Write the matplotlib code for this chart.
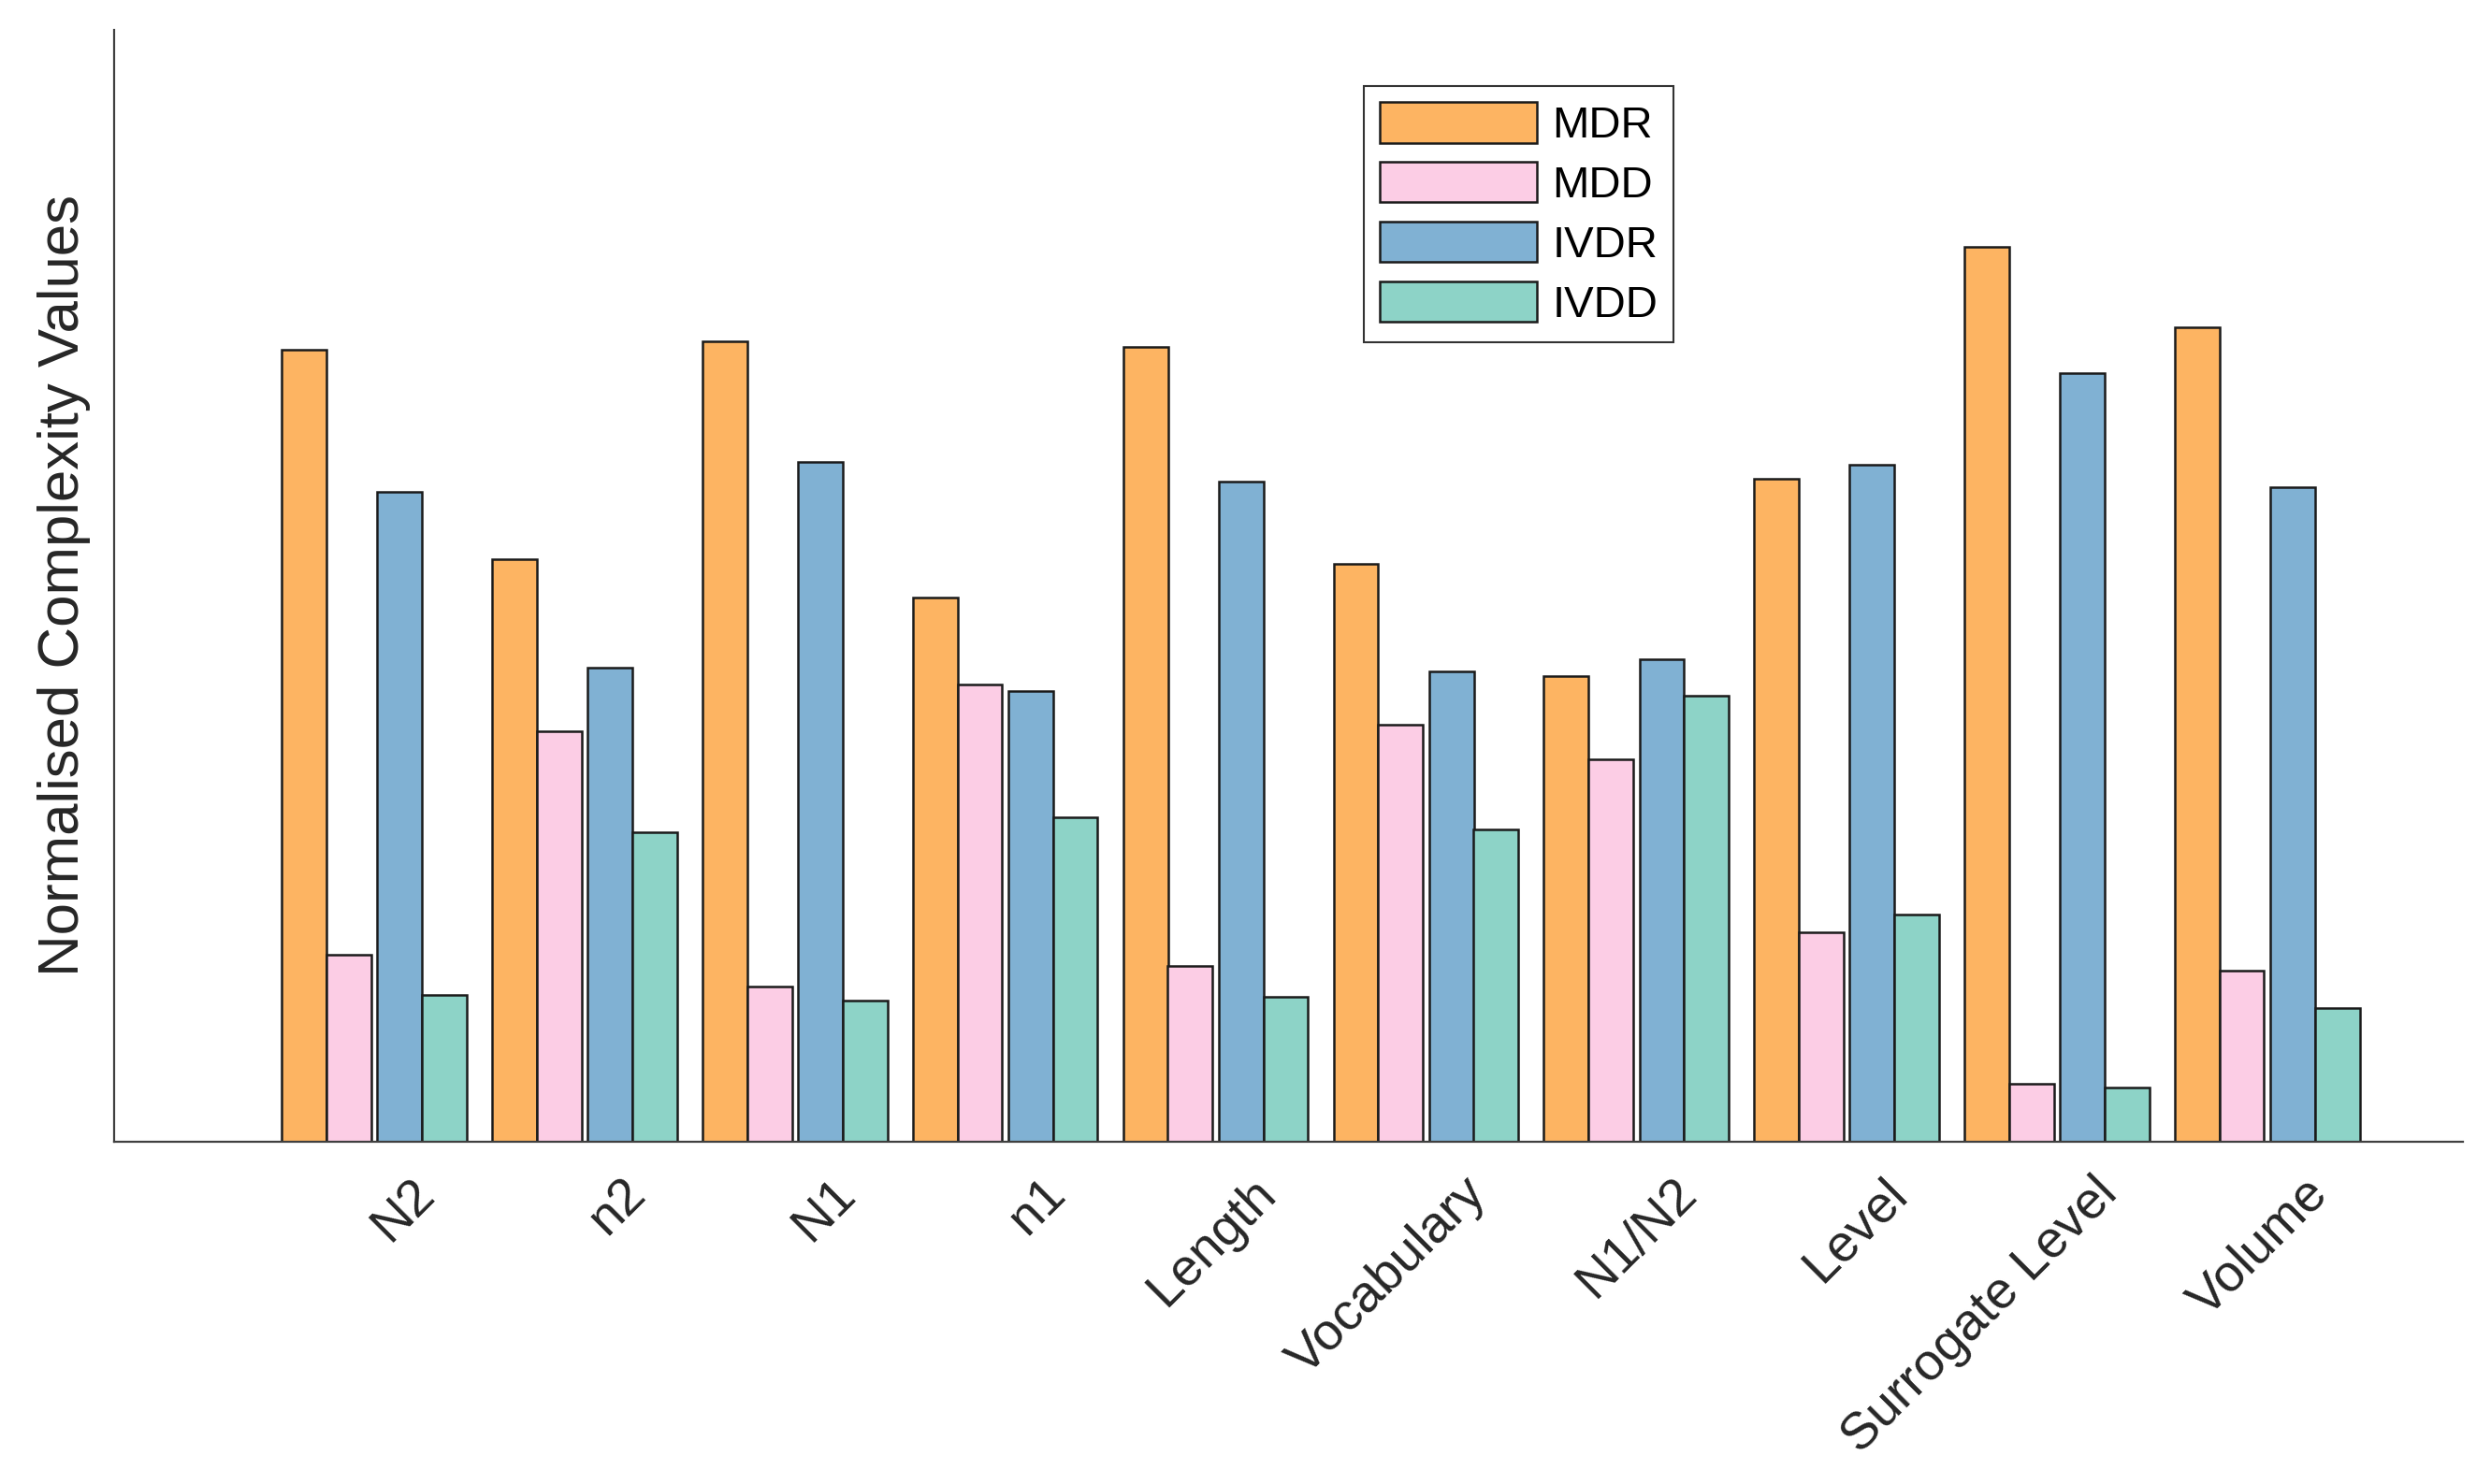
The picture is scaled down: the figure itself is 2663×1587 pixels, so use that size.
import numpy as np
import matplotlib.pyplot as plt

plt.rcParams['font.family'] = ['Liberation Sans', 'DejaVu Sans']

# data (fraction of axis height)
metrics = ['N2', 'n2', 'N1', 'n1', 'Length', 'Vocabulary', 'N1/N2', 'Level',
           'Surrogate Level', 'Volume']
mdr = [0.712, 0.524, 0.720, 0.489, 0.715, 0.520, 0.419, 0.596, 0.805, 0.732]
mdd = [0.168, 0.369, 0.140, 0.411, 0.158, 0.375, 0.344, 0.188, 0.052, 0.154]
ivdr = [0.584, 0.426, 0.611, 0.405, 0.594, 0.423, 0.434, 0.609, 0.691, 0.589]
ivdd = [0.132, 0.278, 0.127, 0.292, 0.130, 0.281, 0.401, 0.204, 0.049, 0.120]

series = [('MDR', mdr, '#fdb462'), ('MDD', mdd, '#fccde5'),
          ('IVDR', ivdr, '#80b1d3'), ('IVDD', ivdd, '#8dd3c7')]
offsets = [-0.333, -0.121, 0.121, 0.333]
bar_w = 0.2125

fig = plt.figure(figsize=(26.63, 15.87), dpi=100)
ax = fig.add_axes([0.046, 0.2306, 0.9427, 0.7494])

x = np.arange(len(metrics))
for (name, vals, col), off in zip(series, offsets):
    ax.bar(x + off, vals, width=bar_w, color=col, edgecolor='#1a1a1a',
           linewidth=1.8, label=name)

ax.set_xlim(-1.235, 9.93)
ax.set_ylim(0, 1)

# 坐标轴样式
for s in ['top', 'right']:
    ax.spines[s].set_visible(False)
for s in ['left', 'bottom']:
    ax.spines[s].set_color('#404040')
    ax.spines[s].set_linewidth(1.6)

ax.set_yticks([])
ax.set_xticks(x + 0.17)
ax.set_xticklabels(metrics, rotation=45, ha='right', va='top',
                   rotation_mode='anchor', fontsize=40, color='#262626')
ax.tick_params(axis='x', length=0, pad=21)
ax.set_ylabel('Normalised Complexity Values', fontsize=44.5, color='#262626',
              labelpad=18)

leg = ax.legend(loc='upper left', bbox_to_anchor=(0.5475, 0.942),
                bbox_transform=fig.transFigure, fontsize=34, fancybox=False,
                edgecolor='#333333', framealpha=1, handlelength=3.56,
                handleheight=1.04, labelspacing=0.34, handletextpad=0.34,
                borderpad=0.36, borderaxespad=0)
leg.get_frame().set_linewidth(1.5)

fig.savefig('out.png', dpi=100)
